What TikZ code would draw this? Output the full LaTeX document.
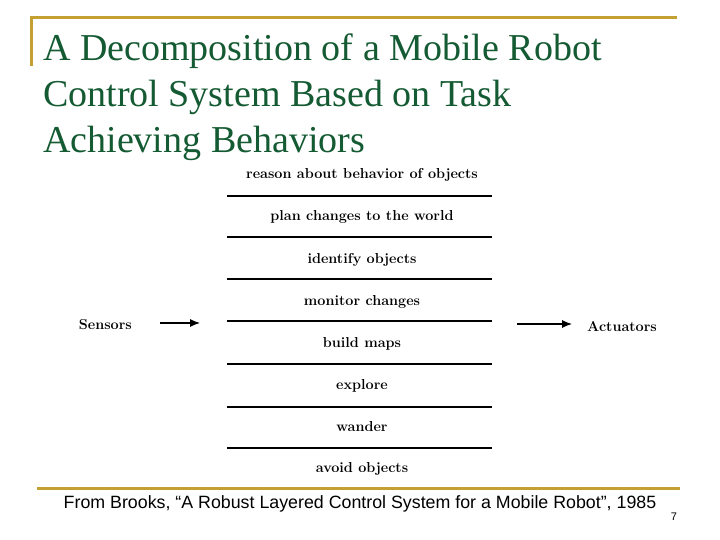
\documentclass[tikz,border=0pt]{standalone}
\usepackage{fontspec}
\usetikzlibrary{arrows.meta}
\setmainfont{Latin Modern Roman}
\newfontfamily\titlefont{Liberation Serif}
\newfontfamily\capfont{Liberation Sans}
\definecolor{gold}{RGB}{196,160,50}
\definecolor{tgreen}{RGB}{20,90,50}
\begin{document}
\begin{tikzpicture}[x=1pt,y=-1pt,
  layer/.style={font=\bfseries\fontsize{14.4}{17}\selectfont, inner sep=0pt, anchor=base},
  ttl/.style={anchor=base west, inner sep=0pt, text=tgreen, font=\titlefont\fontsize{38}{46}\selectfont},
  sep/.style={line width=1.3pt},
  arr/.style={-{Latex[length=10pt,width=8pt]}, line width=1.1pt}]
\useasboundingbox (0,0) rectangle (720,540);
\fill[white] (0,0) rectangle (720,540);
\draw[gold, line width=3pt] (31,66) -- (31,18) -- (677,18);
\draw[gold, line width=3pt] (37,488) -- (680,488);
\node[ttl] (t1) at (43,61) {A Decomposition of a Mobile Robot};
\node[ttl] (t2) at (43,107) {Control System Based on Task};
\node[ttl] (t3) at (43,153) {Achieving Behaviors};
\foreach \t/\y [count=\i] in {reason about behavior of objects/179, plan changes to the world/221, identify objects/263, monitor changes/305, build maps/347, explore/389, wander/431, avoid objects/472}
  \node[layer] (l\i) at (362,\y) {\t};
\foreach \y [count=\i] in {196,237,279,321,364,407,448}
  {\coordinate (a\i) at (227,\y); \coordinate (b\i) at (492,\y); \draw[sep] (a\i) -- (b\i);}
\node[layer, anchor=base east] (sens) at (132,329) {Sensors};
\coordinate (s1) at (160,323); \coordinate (s2) at (200,323);
\draw[arr] (s1) -- (s2);
\node[layer, anchor=base west] (act) at (587,331) {Actuators};
\coordinate (u1) at (517,324); \coordinate (u2) at (572,324);
\draw[arr] (u1) -- (u2);
\node[anchor=base, inner sep=0pt, font=\capfont\fontsize{17.8}{20}\selectfont] (cap) at (360,508) {From Brooks, “A Robust Layered Control System for a Mobile Robot”, 1985};
\node[anchor=base, inner sep=0pt, font=\capfont\fontsize{11}{12}\selectfont] (pg) at (674,520) {7};
\end{tikzpicture}
\end{document}
